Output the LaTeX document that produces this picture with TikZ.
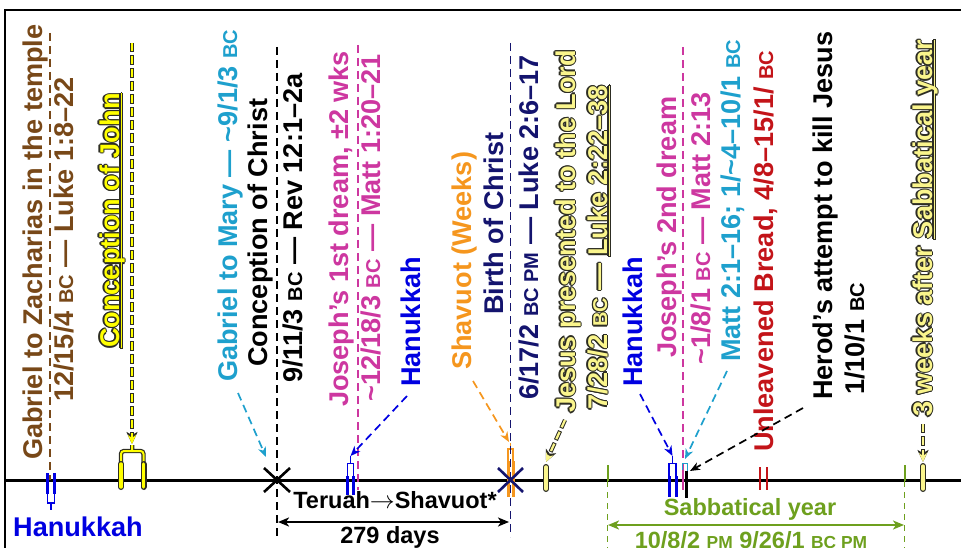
\documentclass[tikz,border=0pt]{standalone}
\usepackage{fontspec}
\setmainfont{Liberation Sans}
\usetikzlibrary{arrows.meta}
\definecolor{cbrown}{RGB}{120,72,24}
\definecolor{ccyan}{RGB}{30,160,205}
\definecolor{cmag}{RGB}{205,55,160}
\definecolor{cblue}{RGB}{0,0,225}
\definecolor{corange}{RGB}{245,150,30}
\definecolor{cnavy}{RGB}{20,20,110}
\definecolor{cred}{RGB}{195,20,25}
\definecolor{cgreen}{RGB}{110,160,30}
\definecolor{cyel}{RGB}{255,255,0}
\definecolor{cpale}{RGB}{250,245,140}
\definecolor{cglow}{RGB}{45,45,35}
\newcommand\lblfont{\fontsize{27.1}{30}\selectfont\bfseries}
\newcommand\hfont{\fontsize{23.5}{26}\selectfont\bfseries}
\newcommand\smallc[1]{\scalebox{0.74}{#1}}
\newcommand\ulx[1]{\setbox0=\hbox{#1}\rlap{\rule[-3pt]{\wd0}{1.5pt}}\box0}
\newcommand\glowtext[2]{%
  \rlap{\kern1.2pt\textcolor{cglow}{#2}}%
  \rlap{\kern-1.2pt\textcolor{cglow}{#2}}%
  \rlap{\raisebox{1.2pt}{\textcolor{cglow}{#2}}}%
  \rlap{\raisebox{-1.2pt}{\textcolor{cglow}{#2}}}%
  \rlap{\kern.85pt\raisebox{.85pt}{\textcolor{cglow}{#2}}}%
  \rlap{\kern-.85pt\raisebox{.85pt}{\textcolor{cglow}{#2}}}%
  \rlap{\kern.85pt\raisebox{-.85pt}{\textcolor{cglow}{#2}}}%
  \rlap{\kern-.85pt\raisebox{-.85pt}{\textcolor{cglow}{#2}}}%
  \textcolor{#1}{#2}}
\begin{document}
\begin{tikzpicture}[x=1pt,y=-1pt,
  lab/.style={rotate=90,anchor=base west,inner sep=0pt,font=\lblfont},
  hlab/.style={inner sep=0pt,font=\hfont},
  dl/.style={dash pattern=on 8pt off 5pt, line width=1.7pt},
  tip/.style={-{Stealth[length=10pt,width=8pt,inset=3pt]}},
  dtip/.style={{Stealth[length=11pt,width=9pt,inset=3pt]}-{Stealth[length=11pt,width=9pt,inset=3pt]}},
  thk/.style={line width=3pt},
  thn/.style={line width=1.3pt},
  ydark/.style={cglow,line width=4.2pt,dash pattern=on 10pt off 3pt,dash phase=1pt},
  ylite/.style={line width=2.2pt,dash pattern=on 8pt off 5pt},
  ybar/.style={line width=6pt,cglow,line cap=round},
  ybarl/.style={line width=3.4pt,line cap=round},
]
\useasboundingbox (0,0) rectangle (961,548);
% frame and axis
\coordinate (f1) at (5,548); \coordinate (f2) at (5,10); \coordinate (f3) at (961,10);
\draw[line width=2pt] (f1) -- (f2) -- (f3);
\coordinate (a0) at (5,480); \coordinate (a1) at (961,480);
\draw[line width=3pt] (a0) -- (a1);

% ---------- Gabriel to Zacharias ----------
\node[lab,text=cbrown] (zl1) at (42,460) {Gabriel to Zacharias in the temple};
\node[lab,text=cbrown] (zl2) at (73,402) {12/15/4 \smallc{BC} — Luke 1:8–22};
\coordinate (zt) at (50,33); \coordinate (zb) at (50,480);
\draw[dl,cbrown] (zt) -- (zb);
% Hanukkah (down)
\draw[cblue,thk] (47.8,473) -- (47.8,494) (54.2,473) -- (54.2,494);
\draw[cblue,thn] (47.8,493) -- (47.8,503) -- (54.2,503) -- (54.2,493) (51,503) -- (51,510);
\node[hlab,text=cblue,font=\lblfont] (han1) at (78,527) {Hanukkah};

% ---------- Conception of John ----------
\node[lab] (john) at (119,348) {\glowtext{cyel}{\ulx{Conception of John}}};
\coordinate (jt) at (132,43); \coordinate (jb) at (132,444);
\draw[ydark,-{Stealth[length=12pt,width=11pt,inset=3pt]}] (jt) -- (jb);
\draw[ylite,cyel,-{Stealth[length=9pt,width=8pt,inset=3pt]}] (jt) -- (jb);
\draw[cglow,line width=4.4pt,rounded corners=3pt] (121,466) -- (121,451) -- (143.5,451) -- (143.5,466) (132.2,451) -- (132.2,445);
\draw[cyel,line width=2pt,rounded corners=3pt] (121,466) -- (121,451) -- (143.5,451) -- (143.5,466) (132.2,451) -- (132.2,445);
\draw[ybar] (121,464) -- (121,487) (143.5,464) -- (143.5,487);
\draw[ybarl,cyel] (121,464) -- (121,487) (143.5,464) -- (143.5,487);

% ---------- Gabriel to Mary ----------
\node[lab,text=ccyan] (mary) at (237,382) {Gabriel to Mary — \textasciitilde9/1/3 \smallc{BC}};
\coordinate (ms) at (238,393); \coordinate (me) at (266,457);
\draw[dl,ccyan,tip] (ms) -- (me);

% ---------- Conception of Christ ----------
\node[lab] (cc1) at (267,367) {Conception of Christ};
\node[lab] (cc2) at (302,383) {9/11/3 \smallc{BC} — Rev 12:1–2a};
\coordinate (ct) at (277,47); \coordinate (cb) at (277,537);
\draw[dl,black] (ct) -- (cb);
\coordinate (cx) at (277,480);
\draw[line width=2.6pt] ([shift={(-13,-12)}]cx) -- ([shift={(13,12)}]cx) ([shift={(-13,12)}]cx) -- ([shift={(13,-12)}]cx);

% ---------- Joseph's 1st dream ----------
\node[lab,text=cmag] (j1a) at (348,407) {Joseph’s 1st dream, ±2 wks};
\node[lab,text=cmag] (j1b) at (380,402) {\textasciitilde12/18/3 \smallc{BC} — Matt 1:20–21};
\coordinate (j1t) at (358,45); \coordinate (j1e) at (358,490);
\draw[dl,cmag] (j1t) -- (j1e);
\node[lab,text=cblue] (han2) at (420,387) {Hanukkah};
\coordinate (h2s) at (407,396); \coordinate (h2e) at (350.5,456);
\draw[dl,cblue,tip] (h2s) -- (h2e);
\draw[cblue,thk] (347.3,476) -- (347.3,495) (353.7,476) -- (353.7,495);
\draw[cblue,thn] (347.3,477) -- (347.3,463.5) -- (353.7,463.5) -- (353.7,477) (350.5,463.5) -- (350.5,456);

% ---------- Shavuot & Birth ----------
\node[lab,text=corange] (shav) at (471,370) {Shavuot (Weeks)};
\coordinate (shs) at (473,381); \coordinate (she) at (509,442);
\draw[dl,corange,tip] (shs) -- (she);
\draw[corange,thk] (508,461) -- (508,497) (513,461) -- (513,497);
\draw[corange,thn] (508,462) -- (508,449) -- (513,449) -- (513,462) (510.5,449) -- (510.5,443);
\node[lab,text=cnavy] (bc1) at (503,315) {Birth of Christ};
\node[lab,text=cnavy] (bc2) at (538,400) {6/17/2 \smallc{BC PM} — Luke 2:6–17};
\coordinate (bt) at (510.5,43); \coordinate (bb) at (510.5,537);
\draw[dl,cnavy] (bt) -- (bb);
\coordinate (bx) at (510.5,480);
\draw[cnavy,line width=2.6pt] ([shift={(-12.5,-12)}]bx) -- ([shift={(12.5,12)}]bx) ([shift={(-12.5,12)}]bx) -- ([shift={(12.5,-12)}]bx);
\coordinate (tl) at (278,522); \coordinate (tr) at (509,522);
\draw[dtip,line width=2pt] (tl) -- (tr);
\node[hlab] (terl) at (395,500) {Teruah$\rightarrow$Shavuot*};
\node[hlab] (days) at (390,537) {279 days};

% ---------- Jesus presented ----------
\node[lab] (jp1) at (575,413) {\glowtext{cpale}{Jesus presented to the Lord}};
\node[lab] (jp2) at (607,410) {\glowtext{cpale}{7/28/2 \smallc{BC} — \ulx{Luke 2:22–38}}};
\coordinate (jps) at (565,420); \coordinate (jpe) at (546,462);
\draw[ydark,-{Stealth[length=12pt,width=11pt,inset=3pt]}] (jps) -- (jpe);
\draw[ylite,cpale,-{Stealth[length=9pt,width=8pt,inset=3pt]}] (jps) -- (jpe);
\coordinate (jpb1) at (546,467); \coordinate (jpb2) at (546,489);
\draw[ybar] (jpb1) -- (jpb2);
\draw[ybarl,cpale] (jpb1) -- (jpb2);

% ---------- Sabbatical year ----------
\coordinate (s1t) at (607.5,465); \coordinate (s1m) at (607.5,481); \coordinate (s1b) at (607.5,548);
\coordinate (s2t) at (904.5,465); \coordinate (s2m) at (904.5,481); \coordinate (s2b) at (904.5,548);
\draw[cgreen,line width=2pt] (s1t) -- (s1m) (s2t) -- (s2m);
\draw[cgreen,line width=1.6pt,dash pattern=on 6pt off 5pt] (s1m) -- (s1b) (s2m) -- (s2b);
\coordinate (sl) at (608,525); \coordinate (sr) at (904,525);
\draw[cgreen,dtip,line width=2pt] (sl) -- (sr);
\node[hlab,text=cgreen] (sabl) at (750,509) {Sabbatical year};
\node[hlab,text=cgreen] (sabd) at (751,540) {10/8/2 \smallc{PM} 9/26/1 \smallc{BC PM}};

% ---------- Hanukkah 2 / Joseph 2nd ----------
\node[lab,text=cblue] (han3) at (642,387) {Hanukkah};
\coordinate (h3s) at (640,394); \coordinate (h3e) at (672.5,456);
\draw[dl,cblue,tip] (h3s) -- (h3e);
\draw[cblue,thk] (669,476) -- (669,497) (676,476) -- (676,497);
\draw[cblue,thn] (669,477) -- (669,463.5) -- (676,463.5) -- (676,477) (672.5,463.5) -- (672.5,456);
\node[lab,text=cmag] (j2a) at (676,358) {Joseph’s 2nd dream};
\node[lab,text=cmag] (j2b) at (710,365) {\textasciitilde1/8/1 \smallc{BC} — Matt 2:13};
\coordinate (j2t) at (683,47); \coordinate (j2e) at (683,490);
\draw[dl,cmag] (j2t) -- (j2e);
\node[lab,text=ccyan] (matt) at (740,362) {Matt 2:1–16; 1/\textasciitilde4–10/1 \smallc{BC}};
\coordinate (mts) at (727,371); \coordinate (mte) at (685,459);
\draw[dl,ccyan,tip] (mts) -- (mte);
\draw[ccyan,thn] (682.5,471) -- (682.5,463.5) -- (687.5,463.5) -- (687.5,471);
\coordinate (hb1) at (686.5,471); \coordinate (hb2) at (686.5,498);
\draw[line width=2.2pt] (hb1) -- (hb2);
\draw[cmag,line width=2pt] (683,470) -- (683,490);

% ---------- Unleavened Bread ----------
\node[lab,text=cred] (unl) at (773,452) {Unleavened Bread, 4/8–15/1/ \smallc{BC}};
\draw[cred,line width=2.6pt] (760,467) -- (760,490) (767,467) -- (767,490);

% ---------- Herod ----------
\node[lab] (her1) at (832,400) {Herod’s attempt to kill Jesus};
\node[lab] (her2) at (864,395) {1/10/1 \smallc{BC}};
\coordinate (hs) at (803,408); \coordinate (he) at (690,471);
\draw[dl,tip] (hs) -- (he);

% ---------- 3 weeks after ----------
\node[lab] (wk3) at (932,417) {\glowtext{cpale}{3 weeks after \ulx{Sabbatical year}}};
\coordinate (ws) at (923,424); \coordinate (we) at (923,462);
\draw[ydark,-{Stealth[length=12pt,width=11pt,inset=3pt]}] (ws) -- (we);
\draw[ylite,cpale,-{Stealth[length=9pt,width=8pt,inset=3pt]}] (ws) -- (we);
\coordinate (wb1) at (923,466); \coordinate (wb2) at (923,489);
\draw[ybar] (wb1) -- (wb2);
\draw[ybarl,cpale] (wb1) -- (wb2);
\end{tikzpicture}
\end{document}
